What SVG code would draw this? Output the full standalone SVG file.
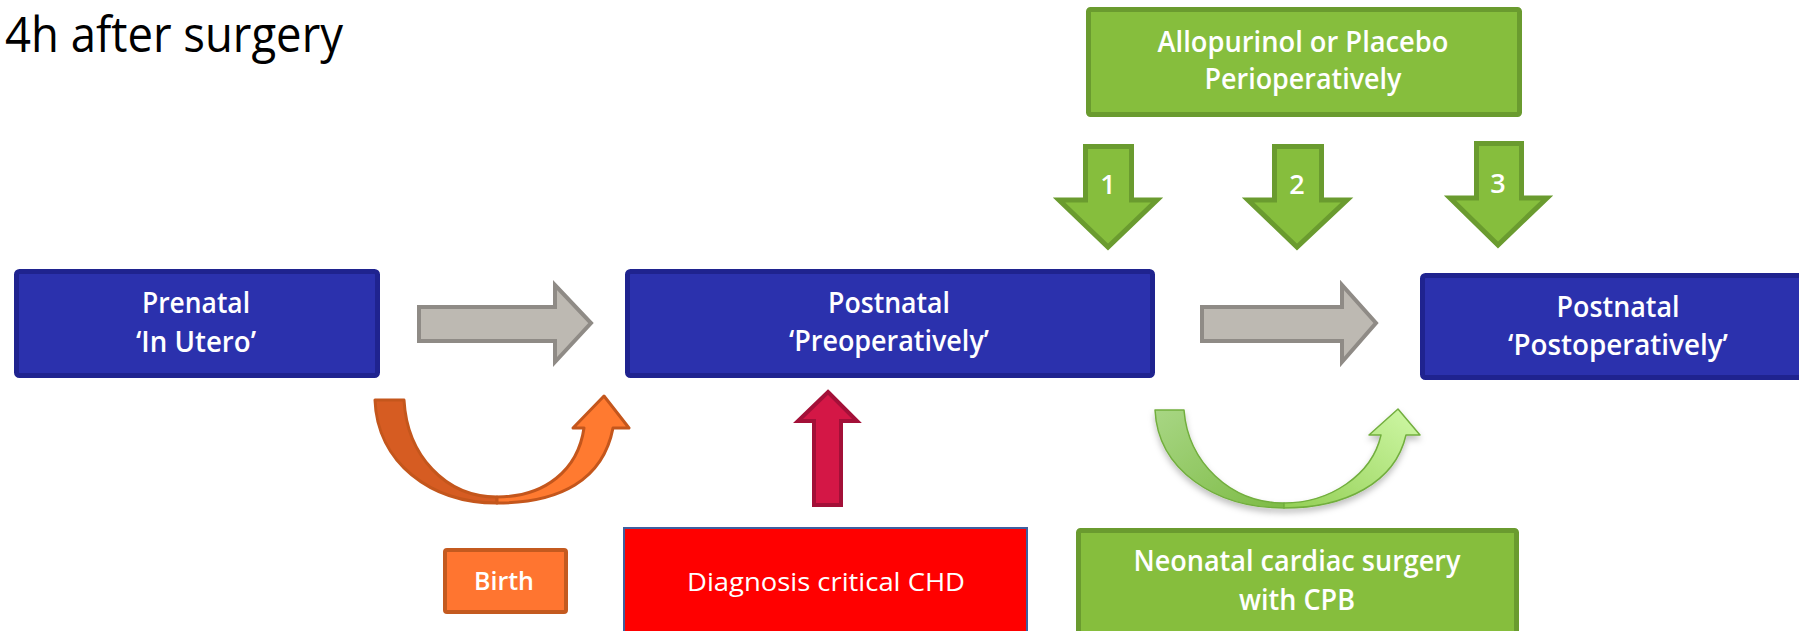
<svg xmlns="http://www.w3.org/2000/svg" width="1799" height="631" viewBox="0 0 1799 631">
<defs>
<style>
.t{font-family:"Open Sans","Liberation Sans",sans-serif;fill:#fff;text-anchor:middle;font-weight:600;}
.t.reg{font-weight:400;}
.blue{fill:#2B31AD;stroke:#1F238F;stroke-width:5;}
.green{fill:#86BE3D;stroke:#6A9B2F;stroke-width:5;}
.gdown{fill:#86BE3D;stroke:#6A9B2F;stroke-width:5;stroke-linejoin:miter;}
.gray{fill:#BDB9B2;stroke:#8F8B86;stroke-width:4;}
</style>
<linearGradient id="gL" x1="0" y1="0" x2="1" y2="1">
<stop offset="0" stop-color="#A8D684"/>
<stop offset="1" stop-color="#7DBB45"/>
</linearGradient>
<linearGradient id="gR" x1="0" y1="1" x2="1" y2="0">
<stop offset="0" stop-color="#93CF55"/>
<stop offset="1" stop-color="#CFF8A6"/>
</linearGradient>
<filter id="sh" x="-20%" y="-20%" width="140%" height="140%">
<feDropShadow dx="0" dy="4" stdDeviation="3" flood-color="#000" flood-opacity="0.25"/>
</filter>
</defs>

<text x="5" y="52" font-family="Open Sans, Liberation Sans, sans-serif" font-size="50" font-weight="500" fill="#000" textLength="338" lengthAdjust="spacingAndGlyphs">4h after surgery</text>

<g id="allopurinol">
<rect class="green" x="1088.5" y="9.5" width="431" height="105" rx="2"/>
<text class="t" x="1303" y="52" font-size="28" textLength="291" lengthAdjust="spacingAndGlyphs">Allopurinol or Placebo</text>
<text class="t" x="1303" y="89" font-size="28" textLength="197" lengthAdjust="spacingAndGlyphs">Perioperatively</text>
</g>

<g id="prenatal">
<rect class="blue" x="16.5" y="271.5" width="361" height="104" rx="3"/>
<text class="t" x="196" y="313" font-size="28" textLength="108" lengthAdjust="spacingAndGlyphs">Prenatal</text>
<text class="t" x="196" y="352" font-size="28" textLength="120" lengthAdjust="spacingAndGlyphs">‘In Utero’</text>
</g>

<g id="preoperatively">
<rect class="blue" x="627.5" y="271.5" width="525" height="104" rx="3"/>
<text class="t" x="889" y="313" font-size="28" textLength="122" lengthAdjust="spacingAndGlyphs">Postnatal</text>
<text class="t" x="889" y="351" font-size="28" textLength="200" lengthAdjust="spacingAndGlyphs">‘Preoperatively’</text>
</g>

<g id="postoperatively">
<rect class="blue" x="1422.5" y="275.5" width="400" height="102" rx="3"/>
<text class="t" x="1618" y="317" font-size="28" textLength="123" lengthAdjust="spacingAndGlyphs">Postnatal</text>
<text class="t" x="1618" y="355" font-size="28" textLength="220" lengthAdjust="spacingAndGlyphs">‘Postoperatively’</text>
</g>

<g id="birth">
<rect x="445" y="550" width="121" height="62" rx="2" fill="#FF7530" stroke="#C45A1F" stroke-width="4"/>
<text class="t" x="504" y="590" font-size="26" textLength="60" lengthAdjust="spacingAndGlyphs">Birth</text>
</g>

<g id="diagnosis">
<rect x="624" y="528" width="403" height="112" fill="#FF0000" stroke="#3F5F9F" stroke-width="2"/>
<text class="t reg" x="826" y="591" font-size="26" textLength="278" lengthAdjust="spacingAndGlyphs">Diagnosis critical CHD</text>
</g>

<g id="surgery">
<rect class="green" x="1078.5" y="530.5" width="438" height="110" rx="2"/>
<text class="t" x="1297" y="571" font-size="28" textLength="327" lengthAdjust="spacingAndGlyphs">Neonatal cardiac surgery</text>
<text class="t" x="1297" y="610" font-size="28" textLength="116" lengthAdjust="spacingAndGlyphs">with CPB</text>
</g>

<g id="connectors">
<polygon class="gray" points="419,307 555,307 555,285 591,323 555,362 555,341 419,341"/>
<polygon class="gray" points="1202,307 1342,307 1342,285 1376,323 1342,362 1342,341 1202,341"/>

<polygon points="828,392 857,421 841,421 841,505 814,505 814,421 798,421" fill="#D41746" stroke="#A31038" stroke-width="4"/>

<g id="birth-arrow" stroke="#C4561C" stroke-width="3" stroke-linejoin="round">
<path d="M375,400 L404,400 C407,455 445,497 497,497 L497,503 C430,503 377,462 375,400 Z" fill="#D65C22"/>
<path d="M497,497 C545,497 578,470 584,428 L573,428 L604,396 L629,428 L613,428 C603,480 560,503 497,503 Z" fill="#FF7A30"/>
</g>

<g id="surgery-arrow" stroke="#72AE3E" stroke-width="1.5" stroke-linejoin="round" filter="url(#sh)">
<path d="M1155,410 L1184,410 C1188,462 1230,503 1284,503 L1284,508 C1215,508 1158,470 1155,410 Z" fill="url(#gL)"/>
<path d="M1284,503 C1330,503 1372,475 1381,435 L1369,435 L1398,409 L1420,435 L1406,435 C1395,483 1345,508 1284,508 Z" fill="url(#gR)"/>
</g>

<polygon class="gdown" points="1085.5,146.5 1131.5,146.5 1131.5,200 1157,200 1108,247 1059,200 1085.5,200"/>
<text class="t" x="1108" y="194" font-size="27">1</text>
<polygon class="gdown" points="1274.5,146.5 1321.5,146.5 1321.5,200 1347,200 1297,247 1248,200 1274.5,200"/>
<text class="t" x="1297" y="194" font-size="27">2</text>
<polygon class="gdown" points="1476.5,143.5 1521.5,143.5 1521.5,198 1547,198 1498,245 1450,198 1476.5,198"/>
<text class="t" x="1498" y="193" font-size="27">3</text>
</g>
</svg>
